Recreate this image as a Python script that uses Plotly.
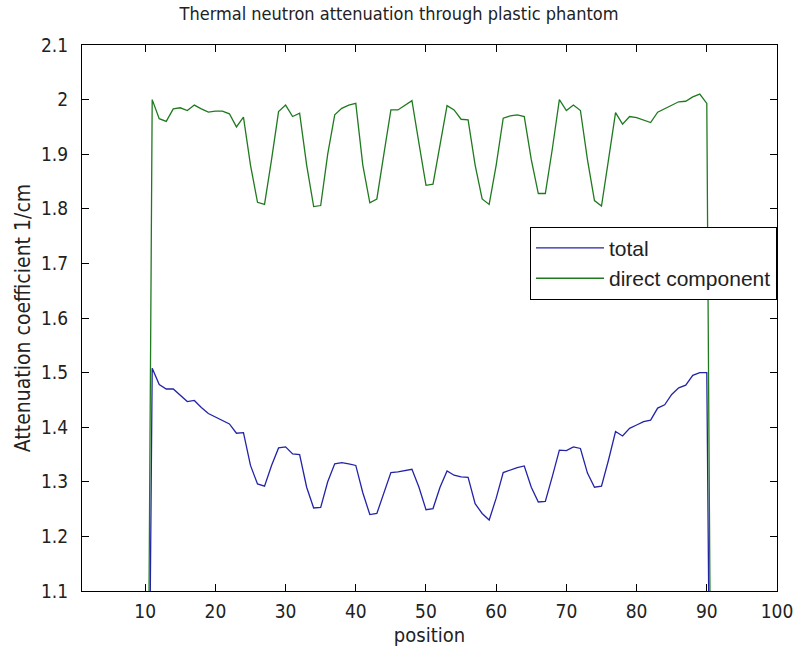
import plotly.graph_objects as go

# positions (x) of samples
positions = list(range(10, 92))

# total attenuation coefficient (1/cm); first/last samples lie below the axis range
total = [0.0,
         1.508, 1.478, 1.470, 1.470, 1.458, 1.447, 1.449, 1.436, 1.425, 1.419,
         1.413, 1.406, 1.389, 1.390, 1.330, 1.296, 1.292, 1.330, 1.362, 1.364,
         1.351, 1.350, 1.290, 1.252, 1.253, 1.300, 1.333, 1.335, 1.333, 1.330,
         1.280, 1.240, 1.242, 1.280, 1.317, 1.318, 1.320, 1.323, 1.290, 1.249,
         1.251, 1.290, 1.320, 1.312, 1.309, 1.308, 1.260, 1.242, 1.230, 1.270,
         1.317, 1.322, 1.326, 1.329, 1.290, 1.263, 1.264, 1.310, 1.358, 1.357,
         1.364, 1.361, 1.316, 1.290, 1.292, 1.340, 1.392, 1.384, 1.398, 1.404,
         1.410, 1.413, 1.435, 1.441, 1.460, 1.472, 1.477, 1.495, 1.500, 1.500,
         0.0]

# direct component (1/cm)
direct = [0.0,
          2.000, 1.965, 1.960, 1.983, 1.985, 1.980, 1.990, 1.983, 1.977, 1.979,
          1.979, 1.974, 1.950, 1.968, 1.880, 1.812, 1.808, 1.890, 1.978, 1.990,
          1.969, 1.975, 1.880, 1.804, 1.806, 1.900, 1.972, 1.984, 1.990, 1.993,
          1.880, 1.811, 1.818, 1.900, 1.981, 1.981, 1.990, 1.998, 1.920, 1.843,
          1.845, 1.920, 1.989, 1.981, 1.964, 1.963, 1.880, 1.818, 1.808, 1.880,
          1.966, 1.970, 1.972, 1.969, 1.890, 1.828, 1.828, 1.910, 2.000, 1.980,
          1.990, 1.980, 1.890, 1.815, 1.805, 1.890, 1.976, 1.955, 1.969, 1.967,
          1.962, 1.958, 1.977, 1.983, 1.990, 1.996, 1.997, 2.005, 2.010, 1.993,
          0.0]

series_names = ["total", "direct component"]
series_colors = ["#2323a8", "#1f7a1f"]

x_ticks = [10, 20, 30, 40, 50, 60, 70, 80, 90, 100]
y_ticks = [1.1, 1.2, 1.3, 1.4, 1.5, 1.6, 1.7, 1.8, 1.9, 2.0, 2.1]
y_tick_text = ["1.1", "1.2", "1.3", "1.4", "1.5", "1.6", "1.7", "1.8", "1.9", "2", "2.1"]

axis_font = "Liberation Sans Narrow, DejaVu Sans Condensed, Arial Narrow, sans-serif"
txt_col = "#222"

fig = go.Figure()
for name, vals, col in zip(series_names, [total, direct], series_colors):
    fig.add_trace(go.Scatter(x=positions, y=vals, mode="lines", name=name,
                             line=dict(color=col, width=1.3)))

axis_common = dict(showline=True, linecolor="black", linewidth=1, mirror="ticks",
                   ticks="inside", ticklen=7, tickcolor="black", showgrid=False,
                   zeroline=False, automargin=False,
                   tickfont=dict(family=axis_font, size=19, color=txt_col))

fig.update_layout(
    width=798, height=650,
    paper_bgcolor="white", plot_bgcolor="white",
    margin=dict(l=82, r=21, t=45, b=59),
    title=dict(text="Thermal neutron attenuation through plastic phantom",
               x=0.5, xanchor="center", y=1 - 14 / 650, yanchor="middle",
               font=dict(family=axis_font, size=18, color=txt_col)),
    xaxis=dict(range=[1, 100], tickvals=x_ticks, ticklabelstandoff=3,
               title=dict(text="position", standoff=7,
                          font=dict(family=axis_font, size=20, color=txt_col)),
               **axis_common),
    yaxis=dict(range=[1.1, 2.1], tickvals=y_ticks, ticktext=y_tick_text,
               ticklabelstandoff=9,
               title=dict(text="Attenuation coefficient 1/cm", standoff=4,
                          font=dict(family=axis_font, size=21, color=txt_col)),
               **axis_common),
    legend=dict(x=1.0, xanchor="right", y=0.667, yanchor="top",
                bordercolor="black", borderwidth=1, bgcolor="white",
                font=dict(family="Liberation Sans, Arial, sans-serif", size=21, color=txt_col),
                itemwidth=68, tracegroupgap=0),
    showlegend=True,
)

fig.write_html("out.html")
